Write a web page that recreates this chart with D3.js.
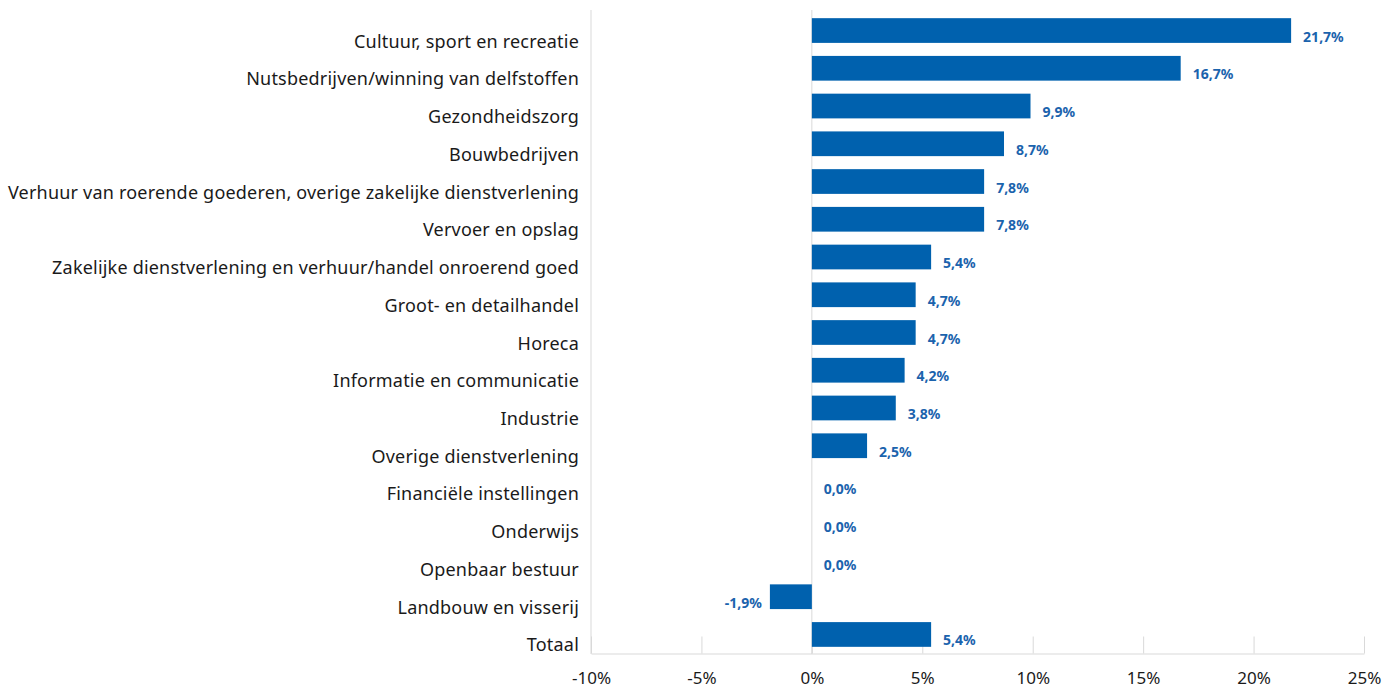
<!DOCTYPE html>
<html>
<head>
<meta charset="utf-8">
<script src="https://cdn.jsdelivr.net/npm/d3@7"></script>
<style>
  body { margin: 0; background: #fff; }
  svg { display: block; font-family: "Noto Sans", sans-serif; }
</style>
</head>
<body>
<div id="chart"></div>
<script>
const categories = [
  'Cultuur, sport en recreatie',
  'Nutsbedrijven/winning van delfstoffen',
  'Gezondheidszorg',
  'Bouwbedrijven',
  'Verhuur van roerende goederen, overige zakelijke dienstverlening',
  'Vervoer en opslag',
  'Zakelijke dienstverlening en verhuur/handel onroerend goed',
  'Groot- en detailhandel',
  'Horeca',
  'Informatie en communicatie',
  'Industrie',
  'Overige dienstverlening',
  'Financiële instellingen',
  'Onderwijs',
  'Openbaar bestuur',
  'Landbouw en visserij',
  'Totaal'
];
const values = [21.7, 16.7, 9.9, 8.7, 7.8, 7.8, 5.4, 4.7, 4.7, 4.2, 3.8, 2.5, 0.0, 0.0, 0.0, -1.9, 5.4];
const tickValues = [-10, -5, 0, 5, 10, 15, 20, 25];

const width = 1397, height = 688;
const barColor = '#0061ae';
const labelColor = '#1b63ad';
const lineColor = '#d9d9d9';

const nl = d3.formatLocale({ decimal: ',', thousands: '.', grouping: [3], currency: ['€', ''], minus: '-' });
const fmt1 = nl.format('.1f');

const data = categories.map((c, i) => ({ name: c, value: values[i] }));

const x = d3.scaleLinear().domain([-10, 25]).range([591, 1364]);
const y = d3.scaleBand()
  .domain(categories)
  .range([11, 654])
  .paddingInner(0.345)
  .paddingOuter(0.19);

const svg = d3.select('#chart').append('svg')
  .attr('width', width)
  .attr('height', height);

// vertical lines: left edge and zero line
svg.append('line')
  .attr('x1', x(-10)).attr('x2', x(-10))
  .attr('y1', 10).attr('y2', 654)
  .attr('stroke', lineColor)
  .attr('stroke-width', 1);
svg.append('line')
  .attr('x1', x(0)).attr('x2', x(0))
  .attr('y1', 10).attr('y2', 654)
  .attr('stroke', lineColor)
  .attr('stroke-width', 1);

// x axis
const xAxis = d3.axisBottom(x)
  .tickValues(tickValues)
  .tickSizeInner(-17)
  .tickSizeOuter(0)
  .tickFormat(d => d + '%');
const gx = svg.append('g')
  .attr('transform', 'translate(0, 653.5)')
  .call(xAxis);
gx.select('.domain').attr('stroke', lineColor);
gx.selectAll('.tick line').attr('stroke', lineColor);
gx.selectAll('.tick text')
  .attr('y', 30)
  .attr('dy', 0)
  .attr('fill', '#1a1a1a')
  .attr('font-size', '17px')
  .attr('font-family', '"Noto Sans", sans-serif');

// bars
svg.append('g')
  .selectAll('rect')
  .data(data)
  .join('rect')
    .attr('x', d => x(Math.min(0, d.value)))
    .attr('y', d => y(d.name))
    .attr('width', d => Math.abs(x(d.value) - x(0)))
    .attr('height', y.bandwidth())
    .attr('fill', barColor);

// value labels
svg.append('g')
  .selectAll('text')
  .data(data)
  .join('text')
    .attr('x', d => d.value < 0 ? x(d.value) - 8 : x(d.value) + 12)
    .attr('y', d => y(d.name) + y.bandwidth() / 2 + 11)
    .attr('text-anchor', d => d.value < 0 ? 'end' : 'start')
    .attr('font-size', '14px')
    .attr('font-weight', 'bold')
    .attr('fill', labelColor)
    .text(d => fmt1(d.value) + '%');

// category labels
svg.append('g')
  .selectAll('text')
  .data(data)
  .join('text')
    .attr('x', 579)
    .attr('y', d => y(d.name) + y.bandwidth() / 2 + 17)
    .attr('text-anchor', 'end')
    .attr('font-size', '18px')
    .attr('letter-spacing', '0.2px')
    .attr('fill', '#1a1a1a')
    .text(d => d.name);
</script>
</body>
</html>
